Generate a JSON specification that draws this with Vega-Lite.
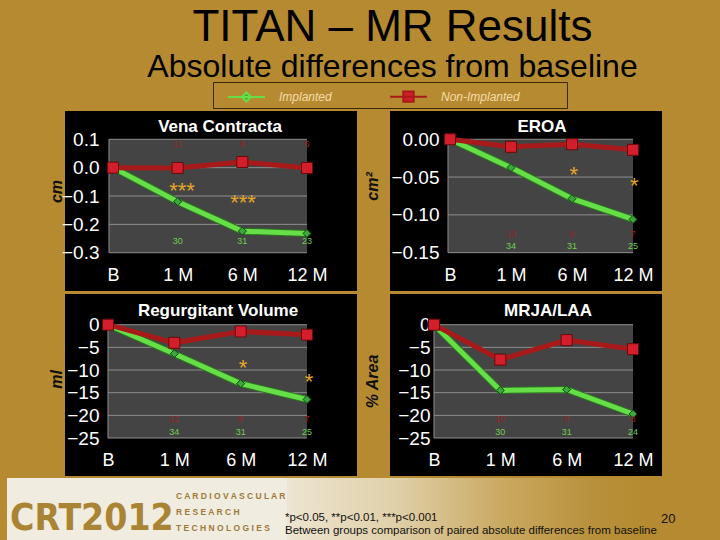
{
  "$schema": "https://vega.github.io/schema/vega-lite/v6.json",
  "background": "#b58a30",
  "padding": {"left": 7, "top": 5, "right": 0, "bottom": 0},
  "autosize": {"type": "pad"},
  "datasets": {
    "series": [
      {"panel": "VC", "group": "Implanted", "t": 0, "v": 0},
      {"panel": "VC", "group": "Implanted", "t": 1, "v": -0.12},
      {"panel": "VC", "group": "Implanted", "t": 2, "v": -0.224},
      {"panel": "VC", "group": "Implanted", "t": 3, "v": -0.232},
      {"panel": "VC", "group": "Non-Implanted", "t": 0, "v": 0},
      {"panel": "VC", "group": "Non-Implanted", "t": 1, "v": -0.001},
      {"panel": "VC", "group": "Non-Implanted", "t": 2, "v": 0.02},
      {"panel": "VC", "group": "Non-Implanted", "t": 3, "v": -0.001},
      {"panel": "EROA", "group": "Implanted", "t": 0, "v": 0},
      {"panel": "EROA", "group": "Implanted", "t": 1, "v": -0.0375},
      {"panel": "EROA", "group": "Implanted", "t": 2, "v": -0.0786},
      {"panel": "EROA", "group": "Implanted", "t": 3, "v": -0.106},
      {"panel": "EROA", "group": "Non-Implanted", "t": 0, "v": 0},
      {"panel": "EROA", "group": "Non-Implanted", "t": 1, "v": -0.010},
      {"panel": "EROA", "group": "Non-Implanted", "t": 2, "v": -0.0066},
      {"panel": "EROA", "group": "Non-Implanted", "t": 3, "v": -0.014},
      {"panel": "RV", "group": "Implanted", "t": 0, "v": 0},
      {"panel": "RV", "group": "Implanted", "t": 1, "v": -6.4},
      {"panel": "RV", "group": "Implanted", "t": 2, "v": -13.0},
      {"panel": "RV", "group": "Implanted", "t": 3, "v": -16.5},
      {"panel": "RV", "group": "Non-Implanted", "t": 0, "v": 0},
      {"panel": "RV", "group": "Non-Implanted", "t": 1, "v": -4.0},
      {"panel": "RV", "group": "Non-Implanted", "t": 2, "v": -1.5},
      {"panel": "RV", "group": "Non-Implanted", "t": 3, "v": -2.2},
      {"panel": "MRJA", "group": "Implanted", "t": 0, "v": 0},
      {"panel": "MRJA", "group": "Implanted", "t": 1, "v": -14.5},
      {"panel": "MRJA", "group": "Implanted", "t": 2, "v": -14.3},
      {"panel": "MRJA", "group": "Implanted", "t": 3, "v": -19.7},
      {"panel": "MRJA", "group": "Non-Implanted", "t": 0, "v": 0},
      {"panel": "MRJA", "group": "Non-Implanted", "t": 1, "v": -7.7},
      {"panel": "MRJA", "group": "Non-Implanted", "t": 2, "v": -3.4},
      {"panel": "MRJA", "group": "Non-Implanted", "t": 3, "v": -5.4}
    ],
    "counts": [
      {"panel": "VC", "group": "Implanted", "t": 1, "n": "30"},
      {"panel": "VC", "group": "Implanted", "t": 2, "n": "31"},
      {"panel": "VC", "group": "Implanted", "t": 3, "n": "23"},
      {"panel": "VC", "group": "Non-Implanted", "t": 1, "n": "11"},
      {"panel": "VC", "group": "Non-Implanted", "t": 2, "n": "8"},
      {"panel": "VC", "group": "Non-Implanted", "t": 3, "n": "5"},
      {"panel": "EROA", "group": "Implanted", "t": 1, "n": "34"},
      {"panel": "EROA", "group": "Implanted", "t": 2, "n": "31"},
      {"panel": "EROA", "group": "Implanted", "t": 3, "n": "25"},
      {"panel": "EROA", "group": "Non-Implanted", "t": 1, "n": "13"},
      {"panel": "EROA", "group": "Non-Implanted", "t": 2, "n": "8"},
      {"panel": "EROA", "group": "Non-Implanted", "t": 3, "n": "7"},
      {"panel": "RV", "group": "Implanted", "t": 1, "n": "34"},
      {"panel": "RV", "group": "Implanted", "t": 2, "n": "31"},
      {"panel": "RV", "group": "Implanted", "t": 3, "n": "25"},
      {"panel": "RV", "group": "Non-Implanted", "t": 1, "n": "12"},
      {"panel": "RV", "group": "Non-Implanted", "t": 2, "n": "8"},
      {"panel": "RV", "group": "Non-Implanted", "t": 3, "n": "7"},
      {"panel": "MRJA", "group": "Implanted", "t": 1, "n": "30"},
      {"panel": "MRJA", "group": "Implanted", "t": 2, "n": "31"},
      {"panel": "MRJA", "group": "Implanted", "t": 3, "n": "24"},
      {"panel": "MRJA", "group": "Non-Implanted", "t": 1, "n": "10"},
      {"panel": "MRJA", "group": "Non-Implanted", "t": 2, "n": "8"},
      {"panel": "MRJA", "group": "Non-Implanted", "t": 3, "n": "8"}
    ],
    "stars": [
      {"panel": "VC", "t": 1.067, "at": -0.1087, "sig": "***"},
      {"panel": "VC", "t": 2.01, "at": -0.1476, "sig": "***"},
      {"panel": "EROA", "t": 2.03, "at": -0.0571, "sig": "*"},
      {"panel": "EROA", "t": 3.02, "at": -0.0717, "sig": "*"},
      {"panel": "RV", "t": 2.035, "at": -11.2, "sig": "*"},
      {"panel": "RV", "t": 3.03, "at": -14.1, "sig": "*"}
    ]
  },
  "title": {
    "text": "TITAN – MR Results",
    "subtitle": "Absolute differences from baseline",
    "fontSize": 44,
    "fontWeight": "normal",
    "subtitleFontSize": 32,
    "subtitleFont": "Liberation Sans",
    "font": "Liberation Sans",
    "color": "#000000",
    "subtitleColor": "#000000",
    "anchor": "middle",
    "dx": 29,
    "offset": -1,
    "subtitlePadding": 2
  },
  "vconcat": [
    {
      "columns": 2,
      "spacing": {"row": 3, "column": 33},
      "bounds": "flush",
      "concat": [
        {
          "width": 292, "height": 180,
          "view": {"fill": "#000000", "stroke": null},
          "title": {"text": "Vena Contracta", "offset": -38, "dx": 9, "baseline": "alphabetic", "fontSize": 17, "fontWeight": "bold", "color": "#ffffff", "anchor": "middle", "frame": "group"},
          "layer": [
            {
              "data": {"values": [{"area": "plot"}]},
              "mark": {"type": "rect", "color": "#444444"},
              "encoding": {
                "x": {"datum": -0.062, "type": "quantitative", "scale": {"domain": [-0.742, 3.773], "nice": false, "zero": false},
                      "axis": {"values": [0, 1, 2, 3], "tickCount": 10, "labelExpr": "['B','1 M','6 M','12 M'][datum.value]", "offset": -38, "labelPadding": 13, "title": null, "labelFlush": false, "labelOverlap": false}},
                "x2": {"datum": 3},
                "y": {"datum": 0.1, "type": "quantitative", "scale": {"domain": [-0.435, 0.1998], "nice": false, "zero": false},
                      "axis": {"values": [0.1, 0, -0.1, -0.2, -0.3], "tickCount": 10, "format": ".1f", "offset": -44, "labelPadding": 10, "title": "cm", "titleX": -45, "titleY": 80, "labelFlush": false, "labelOverlap": false}},
                "y2": {"datum": -0.3}
              }
            },
            {
              "data": {"values": [{"g": 0.1}, {"g": 0}, {"g": -0.1}, {"g": -0.2}, {"g": -0.3}]},
              "mark": {"type": "rule", "color": "#8e8e8e", "strokeWidth": 1},
              "encoding": {"x": {"datum": -0.062, "type": "quantitative"}, "x2": {"datum": 3}, "y": {"field": "g", "type": "quantitative"}}
            },
            {
              "data": {"values": [{"area": "edge"}]},
              "mark": {"type": "rule", "color": "#8e8e8e", "strokeWidth": 1},
              "encoding": {"x": {"datum": -0.062, "type": "quantitative"}, "y": {"datum": 0.1, "type": "quantitative"}, "y2": {"datum": -0.3}}
            },
            {
              "data": {"name": "series"},
              "transform": [{"filter": "datum.panel == 'VC' && datum.group == 'Implanted'"}],
              "mark": {"type": "line", "color": "#2b7520", "strokeWidth": 7},
              "encoding": {"x": {"field": "t", "type": "quantitative"}, "y": {"field": "v", "type": "quantitative"}}
            },
            {
              "data": {"name": "series"},
              "transform": [{"filter": "datum.panel == 'VC'"}],
              "mark": {"type": "line", "strokeWidth": 5},
              "encoding": {
                "x": {"field": "t", "type": "quantitative"},
                "y": {"field": "v", "type": "quantitative"},
                "color": {"field": "group", "type": "nominal", "scale": {"domain": ["Implanted", "Non-Implanted"], "range": ["#66de48", "#a81a1a"]},
                  "legend": {"orient": "none", "legendX": 206, "legendY": -29, "direction": "horizontal", "title": null, "strokeColor": "#3a2808", "padding": 2, "symbolSize": 529, "symbolOffset": 19, "labelOffset": 20, "columnPadding": 45, "labelFontStyle": "italic", "labelFont": "Liberation Sans", "labelFontSize": 12, "labelColor": "#f6dcaa", "labelLimit": 400, "labelExpr": "datum.label == 'Non-Implanted' ? datum.label + '\u2800\u2800\u2800\u2800\u2800' : datum.label", "symbolStrokeWidth": 2,
                    "encode": {"symbols": {"update": {
                      "shape": {"signal": "datum.value === 'Implanted' ? 'M-1.6,0H1.6M0,-0.4L0.4,0L0,0.4L-0.4,0Z' : 'M-1.6,0H1.6M-0.45,-0.45H0.45V0.45H-0.45Z'"},
                      "fill": {"signal": "datum.value === 'Implanted' ? '#3fb23f' : '#d01f2a'"},
                      "stroke": {"signal": "datum.value === 'Implanted' ? '#66de48' : '#a81a1a'"},
                      "opacity": {"value": 1}}}}}}
              }
            },
            {
              "data": {"name": "series"},
              "transform": [{"filter": "datum.panel == 'VC' && datum.group == 'Implanted'"}],
              "mark": {"type": "point", "shape": "diamond", "filled": true, "fill": "#3aa83a", "stroke": "#143f14", "strokeWidth": 1, "size": 64, "opacity": 1},
              "encoding": {"x": {"field": "t", "type": "quantitative"}, "y": {"field": "v", "type": "quantitative"}}
            },
            {
              "data": {"name": "series"},
              "transform": [{"filter": "datum.panel == 'VC' && datum.group == 'Non-Implanted'"}],
              "mark": {"type": "point", "shape": "square", "filled": true, "fill": "#d21f2b", "stroke": "#6b0a0a", "strokeWidth": 1, "size": 121, "opacity": 1},
              "encoding": {"x": {"field": "t", "type": "quantitative"}, "y": {"field": "v", "type": "quantitative"}}
            },
            {
              "data": {"name": "counts"},
              "transform": [{"filter": "datum.panel == 'VC' && datum.group == 'Implanted'"}],
              "mark": {"type": "text", "fontSize": 9, "color": "#6fcf4f", "font": "Liberation Sans"},
              "encoding": {"x": {"field": "t", "type": "quantitative"}, "y": {"datum": -0.26, "type": "quantitative"}, "text": {"field": "n"}}
            },
            {
              "data": {"name": "counts"},
              "transform": [{"filter": "datum.panel == 'VC' && datum.group == 'Non-Implanted'"}],
              "mark": {"type": "text", "fontSize": 9, "color": "#9a2424", "font": "Liberation Sans"},
              "encoding": {"x": {"field": "t", "type": "quantitative"}, "y": {"datum": 0.083, "type": "quantitative"}, "text": {"field": "n"}}
            },
            {
              "data": {"name": "stars"},
              "transform": [{"filter": "datum.panel == 'VC'"}],
              "mark": {"type": "text", "fontSize": 22, "color": "#e3a72a", "baseline": "alphabetic", "font": "Liberation Sans"},
              "encoding": {"x": {"field": "t", "type": "quantitative"}, "y": {"field": "at", "type": "quantitative"}, "text": {"field": "sig"}}
            }
          ]
        },
        {
          "width": 272, "height": 180,
          "view": {"fill": "#000000", "stroke": null},
          "title": {"text": "EROA", "offset": -38, "dx": 16, "baseline": "alphabetic", "fontSize": 17, "fontWeight": "bold", "color": "#ffffff", "anchor": "middle", "frame": "group"},
          "layer": [
            {
              "data": {"values": [{"area": "plot"}]},
              "mark": {"type": "rect", "color": "#444444"},
              "encoding": {
                "x": {"datum": -0.033, "type": "quantitative", "scale": {"domain": [-0.984, 3.475], "nice": false, "zero": false},
                      "axis": {"values": [0, 1, 2, 3], "tickCount": 10, "labelExpr": "['B','1 M','6 M','12 M'][datum.value]", "offset": -38, "labelPadding": 13, "title": null, "labelFlush": false, "labelOverlap": false}},
                "x2": {"datum": 3},
                "y": {"datum": 0, "type": "quantitative", "scale": {"domain": [-0.2007, 0.0374], "nice": false, "zero": false},
                      "axis": {"values": [0, -0.05, -0.1, -0.15], "tickCount": 10, "format": ".2f", "offset": -58, "labelPadding": 9, "title": "cm²", "titleX": -68, "titleY": 75, "labelFlush": false, "labelOverlap": false}},
                "y2": {"datum": -0.15}
              }
            },
            {
              "data": {"values": [{"g": 0}, {"g": -0.05}, {"g": -0.1}, {"g": -0.15}]},
              "mark": {"type": "rule", "color": "#8e8e8e", "strokeWidth": 1},
              "encoding": {"x": {"datum": -0.033, "type": "quantitative"}, "x2": {"datum": 3}, "y": {"field": "g", "type": "quantitative"}}
            },
            {
              "data": {"values": [{"area": "edge"}]},
              "mark": {"type": "rule", "color": "#8e8e8e", "strokeWidth": 1},
              "encoding": {"x": {"datum": -0.033, "type": "quantitative"}, "y": {"datum": 0, "type": "quantitative"}, "y2": {"datum": -0.15}}
            },
            {
              "data": {"name": "series"},
              "transform": [{"filter": "datum.panel == 'EROA' && datum.group == 'Implanted'"}],
              "mark": {"type": "line", "color": "#2b7520", "strokeWidth": 7},
              "encoding": {"x": {"field": "t", "type": "quantitative"}, "y": {"field": "v", "type": "quantitative"}}
            },
            {
              "data": {"name": "series"},
              "transform": [{"filter": "datum.panel == 'EROA'"}],
              "mark": {"type": "line", "strokeWidth": 5},
              "encoding": {
                "x": {"field": "t", "type": "quantitative"},
                "y": {"field": "v", "type": "quantitative"},
                "color": {"field": "group", "type": "nominal", "scale": {"domain": ["Implanted", "Non-Implanted"], "range": ["#66de48", "#a81a1a"]}}
              }
            },
            {
              "data": {"name": "series"},
              "transform": [{"filter": "datum.panel == 'EROA' && datum.group == 'Implanted'"}],
              "mark": {"type": "point", "shape": "diamond", "filled": true, "fill": "#3aa83a", "stroke": "#143f14", "strokeWidth": 1, "size": 64, "opacity": 1},
              "encoding": {"x": {"field": "t", "type": "quantitative"}, "y": {"field": "v", "type": "quantitative"}}
            },
            {
              "data": {"name": "series"},
              "transform": [{"filter": "datum.panel == 'EROA' && datum.group == 'Non-Implanted'"}],
              "mark": {"type": "point", "shape": "square", "filled": true, "fill": "#d21f2b", "stroke": "#6b0a0a", "strokeWidth": 1, "size": 121, "opacity": 1},
              "encoding": {"x": {"field": "t", "type": "quantitative"}, "y": {"field": "v", "type": "quantitative"}}
            },
            {
              "data": {"name": "counts"},
              "transform": [{"filter": "datum.panel == 'EROA' && datum.group == 'Implanted'"}],
              "mark": {"type": "text", "fontSize": 9, "color": "#6fcf4f", "font": "Liberation Sans"},
              "encoding": {"x": {"field": "t", "type": "quantitative"}, "y": {"datum": -0.141, "type": "quantitative"}, "text": {"field": "n"}}
            },
            {
              "data": {"name": "counts"},
              "transform": [{"filter": "datum.panel == 'EROA' && datum.group == 'Non-Implanted'"}],
              "mark": {"type": "text", "fontSize": 9, "color": "#9a2424", "font": "Liberation Sans"},
              "encoding": {"x": {"field": "t", "type": "quantitative"}, "y": {"datum": -0.125, "type": "quantitative"}, "text": {"field": "n"}}
            },
            {
              "data": {"name": "stars"},
              "transform": [{"filter": "datum.panel == 'EROA'"}],
              "mark": {"type": "text", "fontSize": 22, "color": "#e3a72a", "baseline": "alphabetic", "font": "Liberation Sans"},
              "encoding": {"x": {"field": "t", "type": "quantitative"}, "y": {"field": "at", "type": "quantitative"}, "text": {"field": "sig"}}
            }
          ]
        },
        {
          "width": 292, "height": 182,
          "view": {"fill": "#000000", "stroke": null},
          "title": {"text": "Regurgitant Volume", "offset": -39, "dx": 7, "baseline": "alphabetic", "fontSize": 17, "fontWeight": "bold", "color": "#ffffff", "anchor": "middle", "frame": "group"},
          "layer": [
            {
              "data": {"values": [{"area": "plot"}]},
              "mark": {"type": "rect", "color": "#444444"},
              "encoding": {
                "x": {"datum": 0, "type": "quantitative", "scale": {"domain": [-0.648, 3.754], "nice": false, "zero": false},
                      "axis": {"values": [0, 1, 2, 3], "tickCount": 10, "labelExpr": "['B','1 M','6 M','12 M'][datum.value]", "offset": -38, "labelPadding": 13, "title": null, "labelFlush": false, "labelOverlap": false}},
                "x2": {"datum": 3},
                "y": {"datum": 0, "type": "quantitative", "scale": {"domain": [-33.38, 6.77], "nice": false, "zero": false},
                      "axis": {"values": [0, -5, -10, -15, -20, -25], "tickCount": 10, "format": "d", "offset": -43, "labelPadding": 9, "title": "ml", "titleX": -44, "titleY": 85, "labelFlush": false, "labelOverlap": false}},
                "y2": {"datum": -25}
              }
            },
            {
              "data": {"values": [{"g": 0}, {"g": -5}, {"g": -10}, {"g": -15}, {"g": -20}, {"g": -25}]},
              "mark": {"type": "rule", "color": "#8e8e8e", "strokeWidth": 1},
              "encoding": {"x": {"datum": 0, "type": "quantitative"}, "x2": {"datum": 3}, "y": {"field": "g", "type": "quantitative"}}
            },
            {
              "data": {"values": [{"area": "edge"}]},
              "mark": {"type": "rule", "color": "#8e8e8e", "strokeWidth": 1},
              "encoding": {"x": {"datum": 0, "type": "quantitative"}, "y": {"datum": 0, "type": "quantitative"}, "y2": {"datum": -25}}
            },
            {
              "data": {"name": "series"},
              "transform": [{"filter": "datum.panel == 'RV' && datum.group == 'Implanted'"}],
              "mark": {"type": "line", "color": "#2b7520", "strokeWidth": 7},
              "encoding": {"x": {"field": "t", "type": "quantitative"}, "y": {"field": "v", "type": "quantitative"}}
            },
            {
              "data": {"name": "series"},
              "transform": [{"filter": "datum.panel == 'RV'"}],
              "mark": {"type": "line", "strokeWidth": 5},
              "encoding": {
                "x": {"field": "t", "type": "quantitative"},
                "y": {"field": "v", "type": "quantitative"},
                "color": {"field": "group", "type": "nominal", "scale": {"domain": ["Implanted", "Non-Implanted"], "range": ["#66de48", "#a81a1a"]}}
              }
            },
            {
              "data": {"name": "series"},
              "transform": [{"filter": "datum.panel == 'RV' && datum.group == 'Implanted'"}],
              "mark": {"type": "point", "shape": "diamond", "filled": true, "fill": "#3aa83a", "stroke": "#143f14", "strokeWidth": 1, "size": 64, "opacity": 1},
              "encoding": {"x": {"field": "t", "type": "quantitative"}, "y": {"field": "v", "type": "quantitative"}}
            },
            {
              "data": {"name": "series"},
              "transform": [{"filter": "datum.panel == 'RV' && datum.group == 'Non-Implanted'"}],
              "mark": {"type": "point", "shape": "square", "filled": true, "fill": "#d21f2b", "stroke": "#6b0a0a", "strokeWidth": 1, "size": 121, "opacity": 1},
              "encoding": {"x": {"field": "t", "type": "quantitative"}, "y": {"field": "v", "type": "quantitative"}}
            },
            {
              "data": {"name": "counts"},
              "transform": [{"filter": "datum.panel == 'RV' && datum.group == 'Implanted'"}],
              "mark": {"type": "text", "fontSize": 9, "color": "#6fcf4f", "font": "Liberation Sans"},
              "encoding": {"x": {"field": "t", "type": "quantitative"}, "y": {"datum": -23.7, "type": "quantitative"}, "text": {"field": "n"}}
            },
            {
              "data": {"name": "counts"},
              "transform": [{"filter": "datum.panel == 'RV' && datum.group == 'Non-Implanted'"}],
              "mark": {"type": "text", "fontSize": 9, "color": "#9a2424", "font": "Liberation Sans"},
              "encoding": {"x": {"field": "t", "type": "quantitative"}, "y": {"datum": -20.8, "type": "quantitative"}, "text": {"field": "n"}}
            },
            {
              "data": {"name": "stars"},
              "transform": [{"filter": "datum.panel == 'RV'"}],
              "mark": {"type": "text", "fontSize": 22, "color": "#e3a72a", "baseline": "alphabetic", "font": "Liberation Sans"},
              "encoding": {"x": {"field": "t", "type": "quantitative"}, "y": {"field": "at", "type": "quantitative"}, "text": {"field": "sig"}}
            }
          ]
        },
        {
          "width": 272, "height": 182,
          "view": {"fill": "#000000", "stroke": null},
          "title": {"text": "MRJA/LAA", "offset": -39, "dx": 22, "baseline": "alphabetic", "fontSize": 17, "fontWeight": "bold", "color": "#ffffff", "anchor": "middle", "frame": "group"},
          "layer": [
            {
              "data": {"values": [{"area": "plot"}]},
              "mark": {"type": "rect", "color": "#444444"},
              "encoding": {
                "x": {"datum": 0, "type": "quantitative", "scale": {"domain": [-0.663, 3.437], "nice": false, "zero": false},
                      "axis": {"values": [0, 1, 2, 3], "tickCount": 10, "labelExpr": "['B','1 M','6 M','12 M'][datum.value]", "offset": -38, "labelPadding": 13, "title": null, "labelFlush": false, "labelOverlap": false}},
                "x2": {"datum": 3},
                "y": {"datum": 0, "type": "quantitative", "scale": {"domain": [-33.38, 6.77], "nice": false, "zero": false},
                      "axis": {"values": [0, -5, -10, -15, -20, -25], "tickCount": 10, "format": "d", "offset": -44, "labelPadding": 4, "title": "% Area", "titleX": -54, "titleY": 87, "labelFlush": false, "labelOverlap": false}},
                "y2": {"datum": -25}
              }
            },
            {
              "data": {"values": [{"g": 0}, {"g": -5}, {"g": -10}, {"g": -15}, {"g": -20}, {"g": -25}]},
              "mark": {"type": "rule", "color": "#8e8e8e", "strokeWidth": 1},
              "encoding": {"x": {"datum": 0, "type": "quantitative"}, "x2": {"datum": 3}, "y": {"field": "g", "type": "quantitative"}}
            },
            {
              "data": {"values": [{"area": "edge"}]},
              "mark": {"type": "rule", "color": "#8e8e8e", "strokeWidth": 1},
              "encoding": {"x": {"datum": 0, "type": "quantitative"}, "y": {"datum": 0, "type": "quantitative"}, "y2": {"datum": -25}}
            },
            {
              "data": {"name": "series"},
              "transform": [{"filter": "datum.panel == 'MRJA' && datum.group == 'Implanted'"}],
              "mark": {"type": "line", "color": "#2b7520", "strokeWidth": 7},
              "encoding": {"x": {"field": "t", "type": "quantitative"}, "y": {"field": "v", "type": "quantitative"}}
            },
            {
              "data": {"name": "series"},
              "transform": [{"filter": "datum.panel == 'MRJA'"}],
              "mark": {"type": "line", "strokeWidth": 5},
              "encoding": {
                "x": {"field": "t", "type": "quantitative"},
                "y": {"field": "v", "type": "quantitative"},
                "color": {"field": "group", "type": "nominal", "scale": {"domain": ["Implanted", "Non-Implanted"], "range": ["#66de48", "#a81a1a"]}}
              }
            },
            {
              "data": {"name": "series"},
              "transform": [{"filter": "datum.panel == 'MRJA' && datum.group == 'Implanted'"}],
              "mark": {"type": "point", "shape": "diamond", "filled": true, "fill": "#3aa83a", "stroke": "#143f14", "strokeWidth": 1, "size": 64, "opacity": 1},
              "encoding": {"x": {"field": "t", "type": "quantitative"}, "y": {"field": "v", "type": "quantitative"}}
            },
            {
              "data": {"name": "series"},
              "transform": [{"filter": "datum.panel == 'MRJA' && datum.group == 'Non-Implanted'"}],
              "mark": {"type": "point", "shape": "square", "filled": true, "fill": "#d21f2b", "stroke": "#6b0a0a", "strokeWidth": 1, "size": 121, "opacity": 1},
              "encoding": {"x": {"field": "t", "type": "quantitative"}, "y": {"field": "v", "type": "quantitative"}}
            },
            {
              "data": {"name": "counts"},
              "transform": [{"filter": "datum.panel == 'MRJA' && datum.group == 'Implanted'"}],
              "mark": {"type": "text", "fontSize": 9, "color": "#6fcf4f", "font": "Liberation Sans"},
              "encoding": {"x": {"field": "t", "type": "quantitative"}, "y": {"datum": -23.7, "type": "quantitative"}, "text": {"field": "n"}}
            },
            {
              "data": {"name": "counts"},
              "transform": [{"filter": "datum.panel == 'MRJA' && datum.group == 'Non-Implanted'"}],
              "mark": {"type": "text", "fontSize": 9, "color": "#9a2424", "font": "Liberation Sans"},
              "encoding": {"x": {"field": "t", "type": "quantitative"}, "y": {"datum": -20.8, "type": "quantitative"}, "text": {"field": "n"}}
            }
          ]
        }
      ]
    },
    {
      "hconcat": [
        {
          "width": 169, "height": 62,
          "data": {"values": [{"part": "logo"}]},
          "mark": {"type": "rect", "color": "#f1ece0"},
          "encoding": {},
          "title": {"text": "CRT2012", "font": "Liberation Sans Narrow, DejaVu Sans Condensed, Liberation Sans", "fontSize": 37, "fontWeight": "bold", "color": "#a98435", "anchor": "start", "frame": "group", "offset": -89, "baseline": "alphabetic", "dx": 3, "limit": 1000}
        },
        {
          "width": 111, "height": 62,
          "data": {"values": [{"part": "org"}]},
          "mark": {"type": "rect", "color": "#f1ece0"},
          "encoding": {},
          "title": {"text": ["C A R D I O V A S C U L A R", "R E S E A R C H", "T E C H N O L O G I E S"], "font": "Liberation Sans", "fontSize": 8.5, "fontWeight": "bold", "color": "#9b7a3a", "lineHeight": 16, "anchor": "start", "frame": "group", "offset": -61, "baseline": "alphabetic", "dx": 0, "limit": 1000}
        },
        {
          "width": 363, "height": 62,
          "data": {"values": [{"part": "notes"}]},
          "mark": {"type": "rect", "color": {"gradient": "linear", "x1": 0, "x2": 1, "y1": 0, "y2": 0, "stops": [{"offset": 0, "color": "#ede5d2"}, {"offset": 0.3, "color": "#e0d0a8"}, {"offset": 0.6, "color": "#c9a860"}, {"offset": 0.85, "color": "#b8903a"}, {"offset": 1, "color": "#b58a30"}]}},
          "encoding": {},
          "title": {"text": ["*p<0.05, **p<0.01, ***p<0.001", "Between groups comparison of paired absolute differences from baseline"], "font": "Liberation Sans", "fontSize": 11.5, "fontWeight": "normal", "color": "#111111", "lineHeight": 13, "anchor": "start", "frame": "group", "offset": -67, "baseline": "alphabetic", "dx": -2, "limit": 1000}
        },
        {
          "width": 70, "height": 62,
          "data": {"values": [{"part": "page"}]},
          "mark": {"type": "rect", "color": "#b58a30", "opacity": 0},
          "encoding": {},
          "title": {"text": "20", "font": "Liberation Sans", "fontSize": 13, "fontWeight": "normal", "color": "#111111", "anchor": "start", "frame": "group", "offset": -58, "baseline": "alphabetic", "dx": 11, "limit": 1000}
        }
      ],
      "spacing": 0,
      "bounds": "flush"
    }
  ],
  "spacing": 2,
  "center": true,
  "config": {
    "view": {"stroke": null},
    "font": "Liberation Sans",
    "axis": {"labelFont": "Liberation Sans", "labelColor": "#ffffff", "titleFont": "Liberation Sans", "titleColor": "#111111", "titleFontStyle": "italic", "titleFontWeight": "bold", "titleFontSize": 16, "titleAngle": 270, "titleBaseline": "bottom", "titleAlign": "center", "domain": false, "ticks": false, "grid": false, "labelOverlap": false, "labelBound": false},
    "axisX": {"labelFontSize": 18},
    "axisY": {"labelFontSize": 19}
  }
}
